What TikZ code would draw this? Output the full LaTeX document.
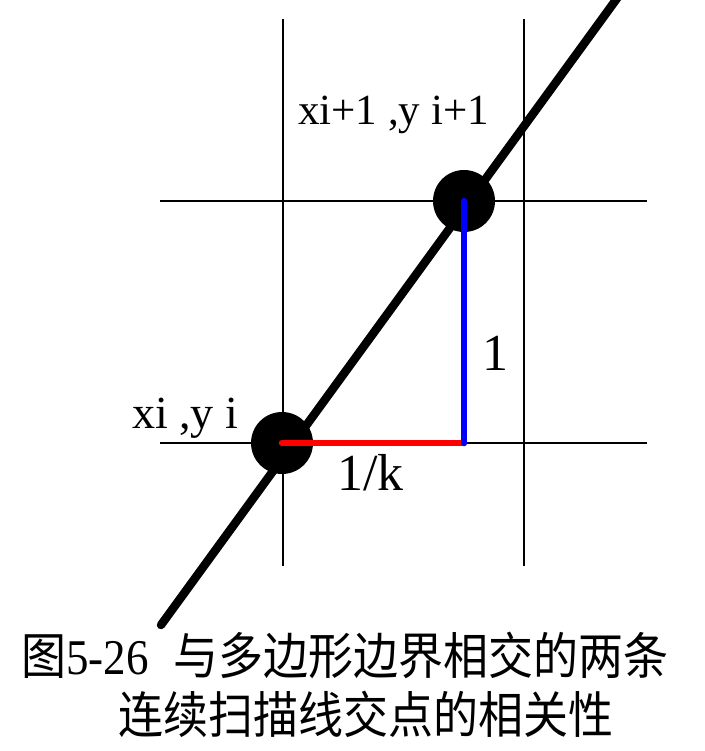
\documentclass[tikz,border=0pt]{standalone}
\usepackage{fontspec}
\setmainfont{Liberation Serif}
\newfontfamily\cjk{Noto Sans CJK SC}
\begin{document}
\begin{tikzpicture}[x=1pt,y=-1pt,
  gridline/.style={line width=2.8pt,black},
  mainline/.style={line width=8.5pt,black},
  dotnode/.style={circle,fill=black,minimum size=62pt,inner sep=0pt},
  lbl/.style={inner sep=0pt,font=\fontsize{43}{43}\selectfont},
  biglbl/.style={inner sep=0pt,font=\fontsize{52}{52}\selectfont},
  captext/.style={inner sep=0pt,font=\fontsize{50}{50}\selectfont}]
\useasboundingbox (0,0) rectangle (704,751);
% grid
\coordinate (v1t) at (283,19); \coordinate (v1b) at (283,566);
\coordinate (v2t) at (524,19); \coordinate (v2b) at (524,566);
\coordinate (h1l) at (160,201); \coordinate (h1r) at (647,201);
\coordinate (h2l) at (160,443); \coordinate (h2r) at (647,443);
\draw[gridline] (v1t) -- (v1b);
\draw[gridline] (v2t) -- (v2b);
\draw[gridline] (h1l) -- (h1r);
\draw[gridline] (h2l) -- (h2r);
% dots
\node[dotnode] (p0) at (282,443) {};
\node[dotnode] (p1) at (464,201) {};
% line
\coordinate (la) at (161,625);
\coordinate (lb) at (618,-3);
\begin{scope}
\clip (0,0) rectangle (704,751);
\draw[mainline,line cap=round] (la) -- (lb);
\end{scope}
% red and blue
\coordinate (c) at (464,443);
\draw[red,line width=6.5pt,line cap=round] (p0.center) -- (c);
\draw[blue,line width=6.5pt,line cap=round] (p1.center) -- (c);
% labels
\node[lbl,anchor=base west] (t1) at (298,125) {xi+1 ,y i+1};
\node[lbl,anchor=base west,font=\fontsize{46}{46}\selectfont] (t0) at (132,428) {xi ,y i};
\node[biglbl,anchor=base west] (tk) at (337,490) {1/k};
\node[biglbl,anchor=base west] (t1b) at (482,370) {1};
% caption
\node[captext,anchor=center] (cap1) at (345,655) {\scalebox{0.9}[1]{\cjk 图\rmfamily 5-26\hspace{0.55em}\cjk 与多边形边界相交的两条}};
\node[captext,anchor=center] (cap2) at (366,714) {\scalebox{0.9}[1]{\cjk 连续扫描线交点的相关性}};
\end{tikzpicture}
\end{document}
